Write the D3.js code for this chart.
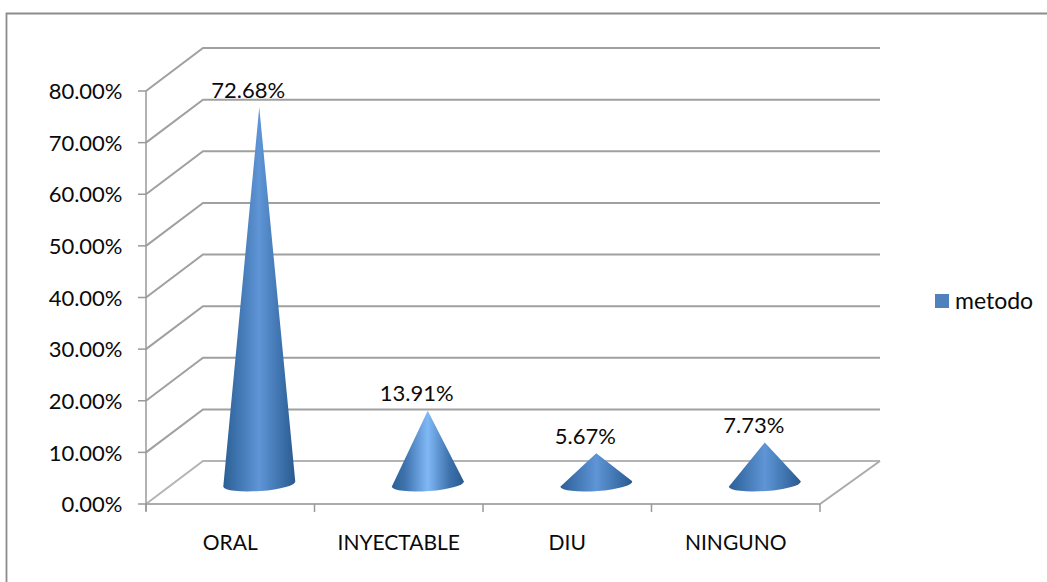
<!DOCTYPE html>
<html><head><meta charset="utf-8">
<script src="https://cdn.jsdelivr.net/npm/d3@7"></script>
<style>
html,body{margin:0;padding:0;background:#fff;}
svg{display:block;}
text{font-family:Lato,"Open Sans",sans-serif;fill:#0a0a0a;}
</style></head><body>
<svg id="c" width="1047" height="582"></svg>
<script>
const categories = ["ORAL","INYECTABLE","DIU","NINGUNO"];
const values = [72.68,13.91,5.67,7.73];
const valueLabels = ["72.68%","13.91%","5.67%","7.73%"];
const yTicks = [0,10,20,30,40,50,60,70,80];
const seriesName = "metodo";
const coneMidColors = ["#5f95d6","#80b8f6","#5f95d6","#5f95d6"];

const svg = d3.select("#c");
const W=1047,H=582;
const plotLeft=146,plotRight=820,plotBottom=504,plotTop=91,dx=57,dy=-43;

const x = d3.scaleBand().domain(categories).range([plotLeft,plotRight]).padding(0);
const y = d3.scaleLinear().domain([0,80]).range([plotBottom,plotTop]);

const defs = svg.append("defs");
defs.append("filter").attr("id","soft").attr("filterUnits","userSpaceOnUse")
  .attr("x",0).attr("y",0).attr("width",W).attr("height",H)
  .append("feGaussianBlur").attr("stdDeviation",0.45);
values.forEach((v,i)=>{
  const g = defs.append("linearGradient").attr("id","cone"+i);
  [[0,"#2c5f94"],[0.18,"#3d72ad"],[0.5,coneMidColors[i]],[0.8,"#3d72ad"],[1,"#2a5a8e"]].forEach(([o,c])=>
    g.append("stop").attr("offset",o).attr("stop-color",c));
});

// frame
svg.append("path").attr("d",`M6.5,${H}V13.5H${W}`).attr("fill","none").attr("stroke","#8c8c8c").attr("stroke-width",1.8).attr("filter","url(#soft)");

// gridlines on the side and back walls
const grid = svg.append("g").attr("fill","none").attr("stroke","#a6a6a6").attr("stroke-width",2).attr("filter","url(#soft)");
yTicks.forEach(t=>{
  const yy=y(t);
  grid.append("path").attr("d",`M${plotLeft},${yy}L${plotLeft+dx},${yy+dy}H${plotRight+dx+3}`)
      .attr("stroke",t===0?"#b4b4b4":"#a0a0a0");
});
// floor
grid.append("path").attr("d",`M${plotLeft},${plotBottom}H${plotRight}L${plotRight+dx+3},${plotBottom+dy}`).attr("stroke","#ababab");

// y axis
const ya = svg.append("g").attr("stroke","#999").attr("stroke-width",1.5);
ya.append("line").attr("x1",plotLeft).attr("x2",plotLeft).attr("y1",plotTop).attr("y2",plotBottom+7);
yTicks.forEach(t=>ya.append("line").attr("x1",plotLeft-8).attr("x2",plotLeft).attr("y1",y(t)).attr("y2",y(t)));
// x ticks
d3.range(categories.length+1).forEach(i=>{
  const xx=plotLeft+i*x.bandwidth();
  ya.append("line").attr("x1",xx).attr("x2",xx).attr("y1",plotBottom).attr("y2",plotBottom+8);
});

// tick labels
svg.append("g").selectAll("text").data(yTicks).join("text")
  .attr("x",122.5).attr("y",t=>y(t)+0.5).attr("dy","0.35em").attr("text-anchor","end")
  .attr("font-size",22).text(t=>t.toFixed(2)+"%");
svg.append("g").selectAll("text").data(categories).join("text")
  .attr("x",d=>x(d)+x.bandwidth()/2).attr("y",543).attr("dy","0.35em").attr("text-anchor","middle")
  .attr("font-size",21).text(d=>d);

// cones: the base is a slightly tilted ellipse
const shiftX=dx/2+0.5, shiftY=dy/2;
const baseRx=36, baseRy=7, tiltY=2.7;
const baseY=plotBottom+shiftY;
const k=(y(0)-y(1));
const cones=svg.append("g").attr("filter","url(#soft)");
categories.forEach((c,i)=>{
  const cx=x(c)+x.bandwidth()/2+shiftX;
  const tip=baseY-values[i]*k;
  const by=baseY+1.5;
  cones.append("path")
    .attr("d",`M${cx-baseRx},${by+tiltY}L${cx},${tip}L${cx+baseRx},${by-tiltY}A${baseRx},${baseRy} -4 0 1 ${cx-baseRx},${by+tiltY}Z`)
    .attr("fill",`url(#cone${i})`);
  svg.append("text").attr("x",cx-11).attr("y",tip).attr("text-anchor","middle")
    .attr("dy",-9.5).attr("font-size",22).text(valueLabels[i]);
});

// legend
svg.append("rect").attr("x",935).attr("y",294).attr("width",14).attr("height",14).attr("fill","#4f81bd");
svg.append("text").attr("x",955).attr("y",301).attr("dy","0.35em").attr("font-size",23).text(seriesName);
</script></body></html>
